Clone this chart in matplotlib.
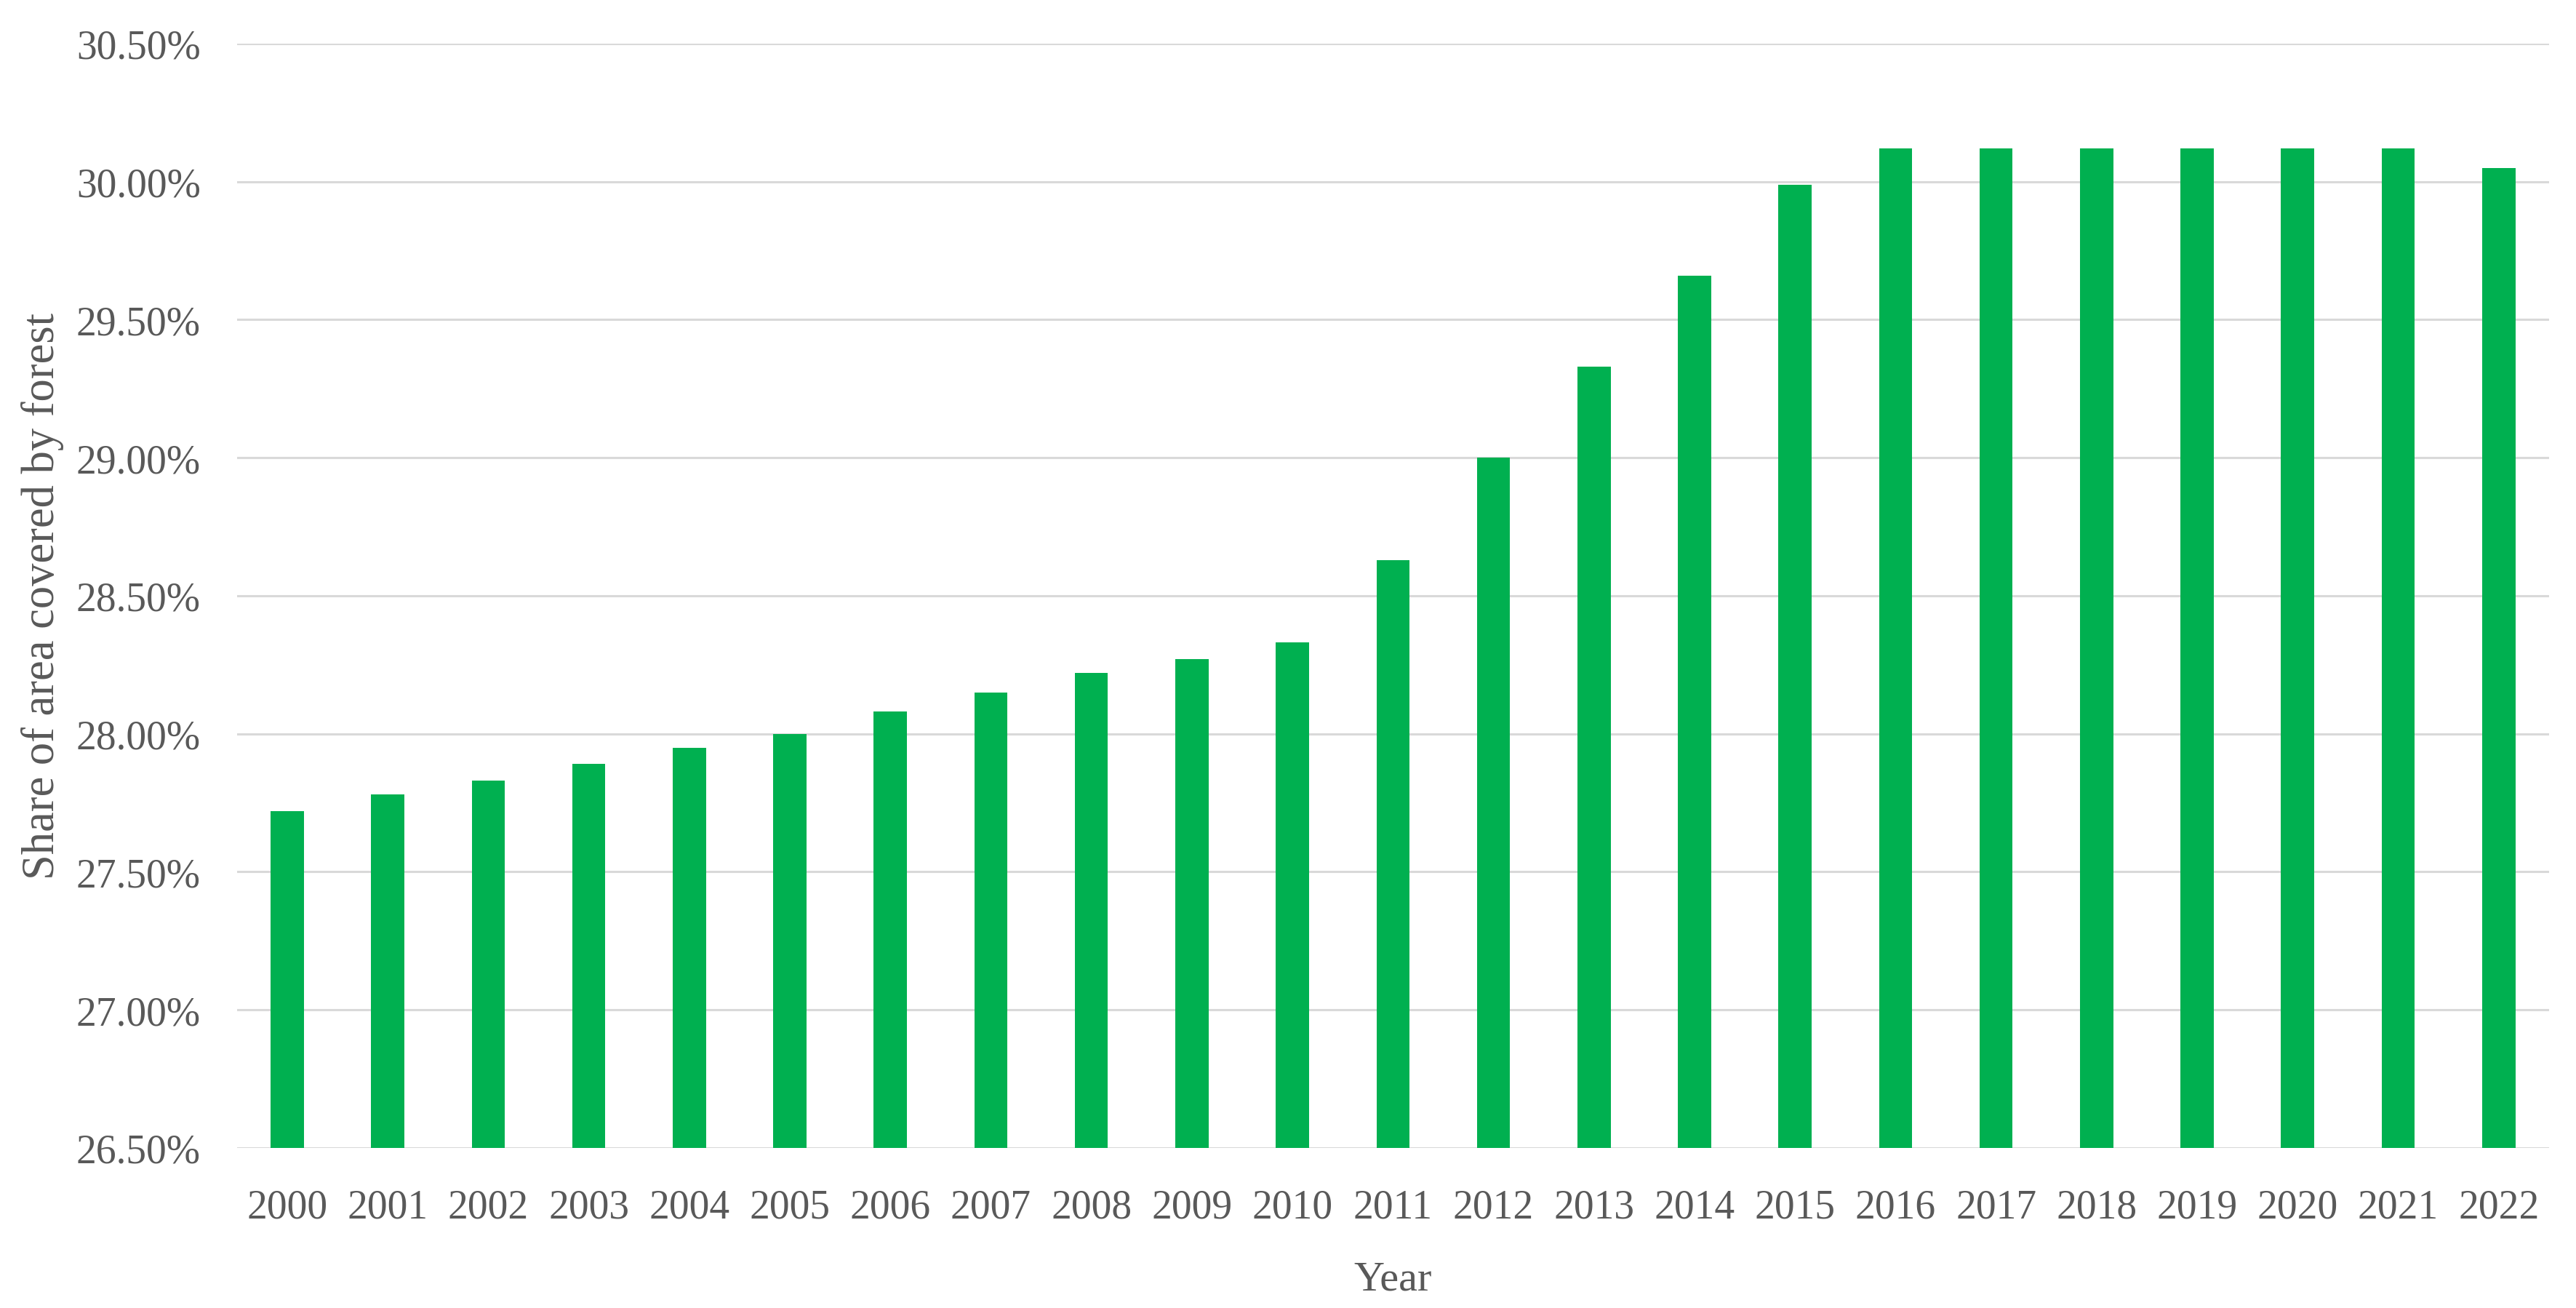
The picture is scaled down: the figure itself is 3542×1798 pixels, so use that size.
import matplotlib.pyplot as plt
from matplotlib.ticker import FuncFormatter, MultipleLocator

# Datos
years = [str(y) for y in range(2000, 2023)]
forest_share = [27.72, 27.78, 27.83, 27.89, 27.95, 28.00, 28.08, 28.15, 28.22, 28.27,
                28.33, 28.63, 29.00, 29.33, 29.66, 29.99, 30.12, 30.12, 30.12, 30.12,
                30.12, 30.12, 30.05]

plt.rcParams['font.family'] = ['Liberation Serif', 'DejaVu Serif']
text_color = '#595959'

fig = plt.figure(figsize=(35.42, 17.99), dpi=100)
ax = fig.add_axes([0.092, 0.1223, 0.8975, 0.8438])

x = range(len(years))
ax.bar(x, [v - 26.5 for v in forest_share], bottom=26.5, width=0.33,
       color='#00B050', zorder=3)

ax.set_xlim(-0.5, len(years) - 0.5)
ax.set_ylim(26.5, 30.5)
ax.yaxis.set_major_locator(MultipleLocator(0.5))
ax.yaxis.set_major_formatter(FuncFormatter(lambda v, _: f"{v:.2f}%"))
ax.set_xticks(list(x))
ax.set_xticklabels(years)

ax.grid(axis='y', color='#D9D9D9', linewidth=2.2, zorder=0)
for side in ['top', 'right', 'left', 'bottom']:
    ax.spines[side].set_visible(False)
ax.tick_params(axis='both', length=0, labelsize=40, colors=text_color)
ax.tick_params(axis='y', pad=36)
ax.tick_params(axis='x', pad=40)

ax.set_xlabel('Year', fontsize=42, color=text_color, labelpad=34)
ax.set_ylabel('Share of area covered by forest', fontsize=45, color=text_color, labelpad=12)

fig.savefig('out.png', dpi=100)
